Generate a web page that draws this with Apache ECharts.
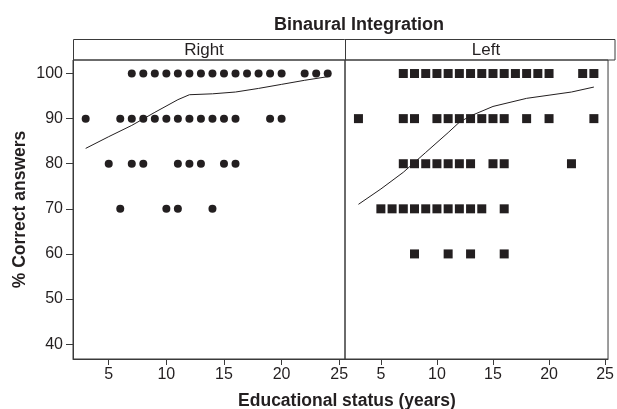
<!DOCTYPE html>
<html>
<head>
<meta charset="utf-8">
<script src="https://cdn.jsdelivr.net/npm/echarts@6/dist/echarts.min.js"></script>
<style>
  html, body { margin: 0; padding: 0; background: #fff; }
  #chart { width: 617px; height: 409px; }
</style>
</head>
<body>
<div id="chart"></div>
<script>
// years of education for each score, per ear
var rightEar100 = [7, 8, 9, 10, 11, 12, 13, 14, 15, 16, 17, 18, 19, 20, 22, 23, 24];
var rightEar90 = [3, 6, 7, 8, 9, 10, 11, 12, 13, 14, 15, 16, 19, 20];
var rightEar80 = [5, 7, 8, 11, 12, 13, 15, 16];
var rightEar70 = [6, 10, 11, 14];

var leftEar100 = [7, 8, 9, 10, 11, 12, 13, 14, 15, 16, 17, 18, 19, 20, 23, 24];
var leftEar90 = [3, 7, 8, 10, 11, 12, 13, 14, 15, 16, 18, 20, 24];
var leftEar80 = [7, 8, 9, 10, 11, 12, 13, 15, 16, 22];
var leftEar70 = [5, 6, 7, 8, 9, 10, 11, 12, 13, 14, 16];
var leftEar60 = [8, 11, 13, 16];

// smoothed fit
var rightFitX = [3, 5, 7, 9, 11, 12, 14, 16, 18, 20, 22, 24];
var rightFitY = [83.4, 86.0, 88.5, 91.4, 94.2, 95.3, 95.5, 95.9, 96.7, 97.6, 98.5, 99.3];
var leftFitX = [3, 5, 7, 9, 11, 12, 13, 15, 18, 20, 22, 24];
var leftFitY = [71.0, 74.4, 78.1, 82.5, 86.9, 89.2, 90.6, 92.7, 94.5, 95.2, 95.9, 97.0];

var xTicks = [5, 10, 15, 20, 25];
var yTicks = [40, 50, 60, 70, 80, 90, 100];

var ink = '#231f20';
var frame = '#3a3a3a';
var font = '"Liberation Sans", Arial, sans-serif';

function rows(groups) {
    var out = [];
    groups.forEach(function (g) {
        g[1].forEach(function (yr) { out.push([yr, g[0]]); });
    });
    return out;
}
function pairs(xs, ys) {
    return xs.map(function (x, i) { return [x, ys[i]]; });
}

var rightPts = rows([[100, rightEar100], [90, rightEar90], [80, rightEar80], [70, rightEar70]]);
var leftPts = rows([[100, leftEar100], [90, leftEar90], [80, leftEar80], [70, leftEar70], [60, leftEar60]]);

function xAxisFor(idx, min, max) {
    return {
        type: 'value', gridIndex: idx, min: min, max: max,
        splitLine: { show: false },
        axisLine: { show: true, lineStyle: { color: frame } },
        axisTick: { show: true, length: 6, customValues: xTicks, lineStyle: { color: frame } },
        axisLabel: { customValues: xTicks, color: ink, fontSize: 16, fontFamily: font, margin: 8 }
    };
}

var myChart = echarts.init(document.getElementById('chart'));
var option = {
    animation: false,
    backgroundColor: '#fff',
    title: {
        text: 'Binaural Integration',
        left: 354, top: 11, textAlign: 'center',
        textStyle: { color: ink, fontSize: 18, fontWeight: 'bold', fontFamily: font }
    },
    grid: [
        { left: 73, top: 60, width: 272, height: 299, show: true, borderColor: frame, borderWidth: 1 },
        { left: 345, top: 60, width: 270, height: 299, show: true, borderColor: frame, borderWidth: 1 }
    ],
    xAxis: [xAxisFor(0, 1.9, 25.5), xAxisFor(1, 1.8, 25.26)],
    yAxis: [
        {
            type: 'value', gridIndex: 0, min: 36.7, max: 103,
            name: '% Correct answers', nameLocation: 'middle', nameGap: 44,
            nameTextStyle: { color: ink, fontSize: 17.5, fontWeight: 'bold', fontFamily: font },
            splitLine: { show: false },
            axisLine: { show: true, lineStyle: { color: frame } },
            axisTick: { show: true, length: 7, customValues: yTicks, lineStyle: { color: frame } },
            axisLabel: { customValues: yTicks, color: ink, fontSize: 16, fontFamily: font, margin: 10 }
        },
        {
            type: 'value', gridIndex: 1, min: 36.7, max: 103,
            splitLine: { show: false }, axisLine: { show: false },
            axisTick: { show: false }, axisLabel: { show: false }
        }
    ],
    graphic: [
        { type: 'rect', shape: { x: 73.5, y: 39.5, width: 541.5, height: 20.5 },
          style: { fill: 'none', stroke: frame, lineWidth: 1 }, silent: true },
        { type: 'line', shape: { x1: 345.5, y1: 39.5, x2: 345.5, y2: 60 },
          style: { stroke: frame, lineWidth: 1 }, silent: true },
        { type: 'text', x: 204, y: 50,
          style: { text: 'Right', fill: ink, font: '17px ' + font, textAlign: 'center', textVerticalAlign: 'middle' } },
        { type: 'text', x: 486, y: 50,
          style: { text: 'Left', fill: ink, font: '17px ' + font, textAlign: 'center', textVerticalAlign: 'middle' } },
        { type: 'text', x: 347, y: 401,
          style: { text: 'Educational status (years)', fill: ink, font: 'bold 17.5px ' + font,
                   textAlign: 'center', textVerticalAlign: 'middle' } }
    ],
    series: [
        { type: 'scatter', xAxisIndex: 0, yAxisIndex: 0, symbol: 'circle', symbolSize: 8,
          itemStyle: { color: ink, opacity: 1 }, data: rightPts },
        { type: 'line', xAxisIndex: 0, yAxisIndex: 0, showSymbol: false,
          lineStyle: { color: ink, width: 1 }, data: pairs(rightFitX, rightFitY) },
        { type: 'scatter', xAxisIndex: 1, yAxisIndex: 1, symbol: 'rect', symbolSize: 9,
          itemStyle: { color: ink, opacity: 1 }, data: leftPts },
        { type: 'line', xAxisIndex: 1, yAxisIndex: 1, showSymbol: false,
          lineStyle: { color: ink, width: 1 }, data: pairs(leftFitX, leftFitY) }
    ]
};
myChart.setOption(option);
</script>
</body>
</html>
